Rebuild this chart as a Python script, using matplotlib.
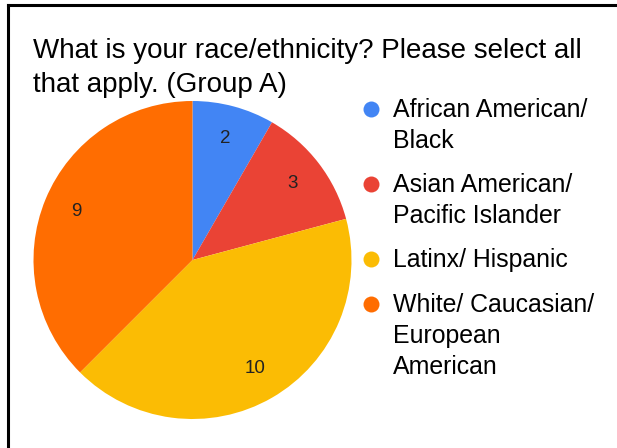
import matplotlib.pyplot as plt
from matplotlib.lines import Line2D

plt.rcParams['font.family'] = ['Liberation Sans', 'DejaVu Sans']

TITLE = ['What is your race/ethnicity? Please select all', 'that apply. (Group A)']
CATEGORIES = ['African American/\nBlack',
              'Asian American/\nPacific Islander',
              'Latinx/ Hispanic',
              'White/ Caucasian/\nEuropean\nAmerican']
COUNTS = [2, 3, 10, 9]
COLORS = ['#4285F4', '#EA4335', '#FBBC04', '#FF6D01']

W, H = 617, 448
fig = plt.figure(figsize=(W / 100, H / 100), dpi=100)


def px(x, y):
    # pixel coords (origin top-left) -> figure fraction
    return x / W, 1 - y / H


# frame lines along top and left edge
fig.add_artist(Line2D([8 / W, 1], [1 - 5 / H, 1 - 5 / H], color='black', lw=2.2))
fig.add_artist(Line2D([8 / W, 8 / W], [0, 1 - 5 / H], color='black', lw=2.2))

# title
fig.text(*px(33, 58), TITLE[0], fontsize=20, va='baseline', ha='left')
fig.text(*px(33, 92), TITLE[1], fontsize=20, va='baseline', ha='left')

# pie
cx, cy, r = 192.5, 260, 159
ax = fig.add_axes([(cx - r) / W, (H - cy - r) / H, 2 * r / W, 2 * r / H])
total = sum(COUNTS)
ax.pie(COUNTS, colors=COLORS, startangle=90, counterclock=False, radius=1,
       autopct=lambda p: f'{round(p * total / 100):d}', pctdistance=0.79,
       wedgeprops=dict(linewidth=0),
       textprops=dict(fontsize=13.5, color='#222222'))
ax.set_xlim(-1, 1)
ax.set_ylim(-1, 1)
ax.set_aspect('equal')
ax.axis('off')

# legend
baselines = [117, 192, 267, 312]
line_h = 31
for label, color, yb in zip(CATEGORIES, COLORS, baselines):
    fig.add_artist(Line2D([371 / W], [1 - (yb - 8) / H], marker='o', markersize=11.5,
                          color=color, markeredgewidth=0))
    for i, part in enumerate(label.split('\n')):
        fig.text(*px(393, yb + i * line_h), part, fontsize=17.9, va='baseline', ha='left')

fig.savefig('out.png', dpi=100, facecolor='white')
